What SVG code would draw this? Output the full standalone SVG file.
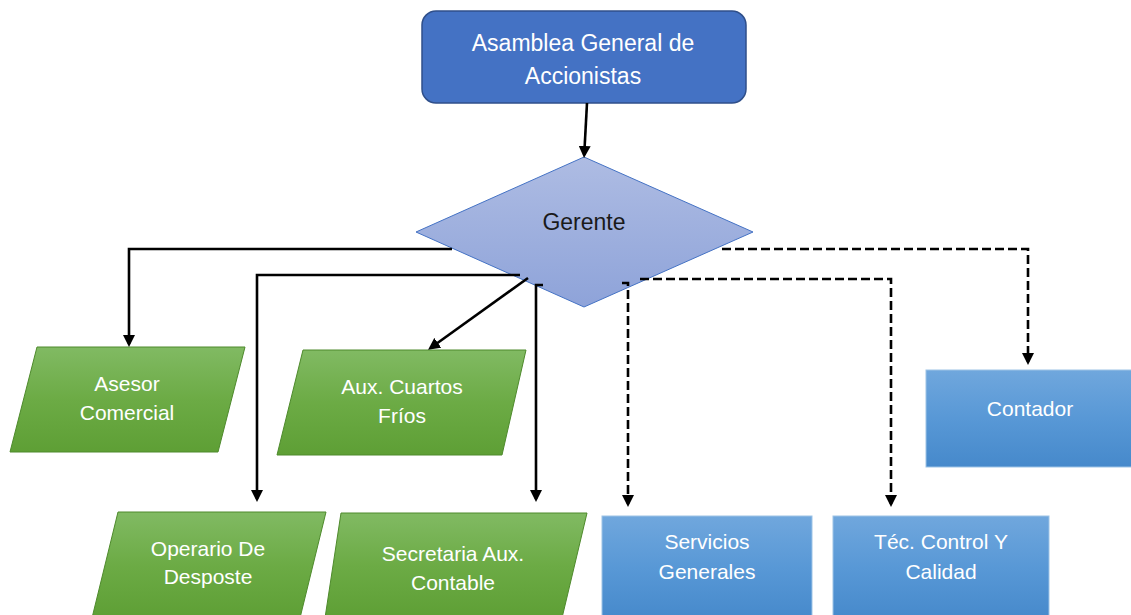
<svg xmlns="http://www.w3.org/2000/svg" width="1131" height="615" viewBox="0 0 1131 615">
<style>
text{font-family:"Liberation Sans",Arial,sans-serif;text-anchor:middle}
.w{fill:#ffffff;font-size:21px}
.big{font-size:23px}
.green{fill:url(#gGreen);stroke:#4E8A2C;stroke-width:1}
.blue{fill:url(#gBlue);stroke:#9DC3E6;stroke-width:1}
.c{fill:none;stroke:#000;stroke-width:2.6;marker-end:url(#arr)}
.d{stroke-dasharray:9 4}
</style>
<defs>
<linearGradient id="gGreen" x1="0" y1="0" x2="0" y2="1"><stop offset="0" stop-color="#81BA63"/><stop offset="0.5" stop-color="#6CAB45"/><stop offset="1" stop-color="#5E9F35"/></linearGradient>
<linearGradient id="gBlue" x1="0" y1="0" x2="0" y2="1"><stop offset="0" stop-color="#70A7DD"/><stop offset="0.5" stop-color="#5898D6"/><stop offset="1" stop-color="#4689CB"/></linearGradient>
<linearGradient id="gDia" x1="0" y1="0" x2="0" y2="1"><stop offset="0" stop-color="#AEBCE3"/><stop offset="1" stop-color="#8EA3D9"/></linearGradient>
<marker id="arr" viewBox="0 0 12 12" refX="9" refY="6" markerWidth="12" markerHeight="12" markerUnits="userSpaceOnUse" orient="auto"><path d="M0,0 L12,6 L0,12 z" fill="#000"/></marker>
</defs>
<g id="asamblea">
<rect x="422" y="11" width="324" height="92" rx="14" fill="#4472C4" stroke="#2F4F8A" stroke-width="1.5"/>
<text class="w big" x="583" y="51">Asamblea General de</text>
<text class="w big" x="583" y="84">Accionistas</text>
</g>
<g id="gerente">
<polygon points="584,157 753,232 584,307 416,232" fill="url(#gDia)" stroke="#4472C4" stroke-width="1"/>
<text class="big" x="584" y="230" fill="#1a1a1a">Gerente</text>
</g>
<g id="asesor">
<polygon class="green" points="37,347 245,347 218,452 10,452"/>
<text class="w" x="127" y="391">Asesor</text>
<text class="w" x="127" y="420">Comercial</text>
</g>
<g id="auxcuartos">
<polygon class="green" points="303,350 526,350 502,455 277,455"/>
<text class="w" x="402" y="394">Aux. Cuartos</text>
<text class="w" x="402" y="423">Fríos</text>
</g>
<g id="operario">
<polygon class="green" points="118,512 326,512 300,618 92,618"/>
<text class="w" x="208" y="556">Operario De</text>
<text class="w" x="208" y="584">Desposte</text>
</g>
<g id="secretaria">
<polygon class="green" points="341,513 587,513 562,618 325,618"/>
<text class="w" x="453" y="561">Secretaria Aux.</text>
<text class="w" x="453" y="590">Contable</text>
</g>
<g id="servicios">
<rect class="blue" x="602" y="516" width="210" height="104"/>
<text class="w" x="707" y="549">Servicios</text>
<text class="w" x="707" y="579">Generales</text>
</g>
<g id="tecnico">
<rect class="blue" x="833" y="516" width="216" height="104"/>
<text class="w" x="941" y="549">Téc. Control Y</text>
<text class="w" x="941" y="579">Calidad</text>
</g>
<g id="contador">
<rect class="blue" x="926" y="370" width="208" height="97"/>
<text class="w" x="1030" y="416">Contador</text>
</g>
<g id="connectors">
<path class="c" d="M587,103 L584.2,155"/>
<path class="c" d="M452,249 H129 V344"/>
<path class="c" d="M520,275 H257 V499"/>
<path class="c" d="M528,278 L430.5,348"/>
<path class="c" d="M543,285 H536 V499"/>
<path class="c d" d="M622,283 H628 V504"/>
<path class="c d" d="M640,279 H891 V504"/>
<path class="c d" d="M722,249 H1028 V362"/>
</g>
</svg>
